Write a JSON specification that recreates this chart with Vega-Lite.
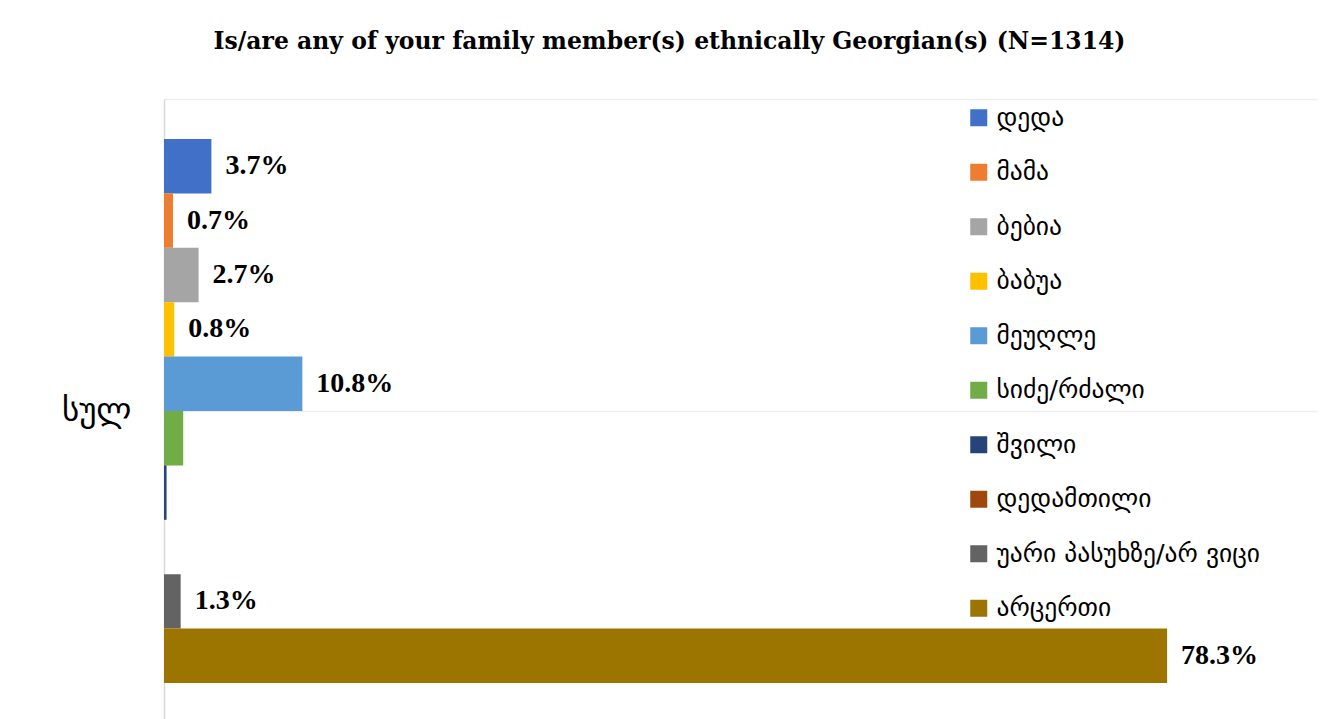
{
  "$schema": "https://vega.github.io/schema/vega-lite/v6.json",
  "autosize": {"type": "none"},
  "width": 1153,
  "height": 624,
  "padding": {"left": 164, "top": 99, "right": 13, "bottom": 0},
  "background": "white",
  "title": {
    "text": "Is/are any of your family member(s) ethnically Georgian(s) (N=1314)",
    "anchor": "middle",
    "dx": -71,
    "offset": 46,
    "font": "DejaVu Serif",
    "fontSize": 23.5,
    "fontWeight": "bold",
    "color": "#000000"
  },
  "config": {
    "view": {"stroke": null},
    "legend": {"padding": 0}
  },
  "data": {
    "values": [
      {"group": "სულ", "series": "დედა", "pct": 3.7, "label": "3.7%"},
      {"group": "სულ", "series": "მამა", "pct": 0.7, "label": "0.7%"},
      {"group": "სულ", "series": "ბებია", "pct": 2.7, "label": "2.7%"},
      {"group": "სულ", "series": "ბაბუა", "pct": 0.8, "label": "0.8%"},
      {"group": "სულ", "series": "მეუღლე", "pct": 10.8, "label": "10.8%"},
      {"group": "სულ", "series": "სიძე/რძალი", "pct": 1.5, "label": ""},
      {"group": "სულ", "series": "შვილი", "pct": 0.2, "label": ""},
      {"group": "სულ", "series": "დედამთილი", "pct": 0.0, "label": ""},
      {"group": "სულ", "series": "უარი პასუხზე/არ ვიცი", "pct": 1.3, "label": "1.3%"},
      {"group": "სულ", "series": "არცერთი", "pct": 78.3, "label": "78.3%"}
    ]
  },
  "encoding": {
    "y": {
      "field": "group",
      "type": "nominal",
      "scale": {"paddingInner": 0, "paddingOuter": 0.0735},
      "axis": {
        "title": null,
        "ticks": false,
        "labelFont": "DejaVu Sans",
        "labelFontSize": 33,
        "labelColor": "#000000",
        "labelPadding": 33,
        "domainColor": "#d9d9d9",
        "domainWidth": 1.5,
        "grid": true,
        "gridColor": "#eeeeee",
        "gridWidth": 1.5
      }
    },
    "yOffset": {
      "field": "series",
      "type": "nominal",
      "sort": null,
      "scale": {"paddingInner": 0, "paddingOuter": 0}
    },
    "x": {
      "field": "pct",
      "type": "quantitative",
      "scale": {"domain": [0, 90], "nice": false},
      "axis": {
        "orient": "top",
        "title": null,
        "labels": false,
        "ticks": false,
        "grid": false,
        "domainColor": "#eeeeee",
        "domainWidth": 1.5
      }
    }
  },
  "layer": [
    {
      "mark": {"type": "bar"},
      "encoding": {
        "color": {
          "field": "series",
          "type": "nominal",
          "sort": null,
          "scale": {
            "domain": ["დედა", "მამა", "ბებია", "ბაბუა", "მეუღლე", "სიძე/რძალი", "შვილი", "დედამთილი", "უარი პასუხზე/არ ვიცი", "არცერთი"],
            "range": ["#4170C8", "#ED7D31", "#A5A5A5", "#FFC000", "#5B9BD5", "#70AD47", "#264478", "#9E480E", "#636363", "#9C7500"]
          },
          "legend": {
            "title": null,
            "orient": "none",
            "legendX": 802,
            "legendY": 6,
            "symbolType": "square",
            "symbolSize": 289,
            "symbolStrokeWidth": 0,
            "labelFont": "DejaVu Sans",
            "labelFontSize": 25.5,
            "labelColor": "#000000",
            "labelOffset": 5,
            "rowPadding": 27.5,
            "labelLimit": 400
          }
        }
      }
    },
    {
      "mark": {
        "type": "text",
        "align": "left",
        "baseline": "middle",
        "dx": 14,
        "font": "Liberation Serif",
        "fontSize": 28,
        "fontWeight": "bold",
        "color": "#000000"
      },
      "encoding": {
        "text": {"field": "label", "type": "nominal"}
      }
    }
  ]
}
